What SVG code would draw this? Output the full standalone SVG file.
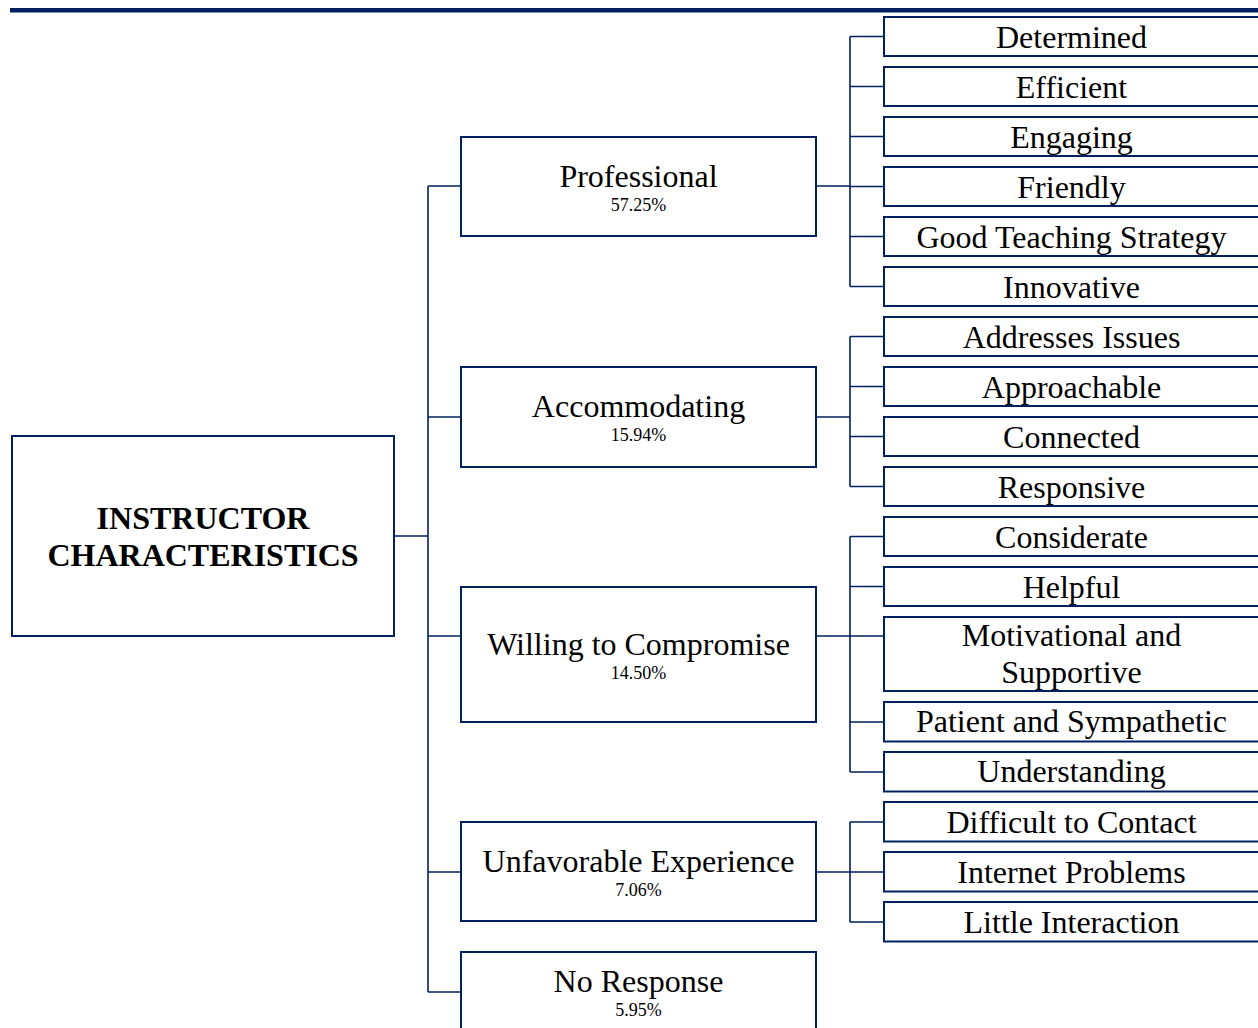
<svg xmlns="http://www.w3.org/2000/svg" width="1258" height="1028" viewBox="0 0 1258 1028">
<style>
.box{fill:#fff;stroke:#002060;stroke-width:2}
.con{fill:none;stroke:#002060;stroke-width:1.6}
.t{font-family:"Liberation Serif","Times New Roman",serif;font-size:32px;fill:#000;text-anchor:middle}
.p{font-family:"Liberation Serif","Times New Roman",serif;font-size:18px;fill:#000;text-anchor:middle}
.b{font-weight:bold}
</style>
<rect x="0" y="0" width="1258" height="1028" fill="#fff"/>
<rect x="10" y="8" width="1248" height="4.5" fill="#002060"/>
<g id="connectors" class="con">
<path d="M394 536H428M428 186V992M428 186H461M428 417H461M428 636H461M428 872H461M428 992H461"/>
<path d="M816 186H850M850 36.5V286.5M850 36.5H884M850 86.5H884M850 136.5H884M850 186.5H884M850 236.5H884M850 286.5H884"/>
<path d="M816 417H850M850 336.5V486.5M850 336.5H884M850 386.5H884M850 436.5H884M850 486.5H884"/>
<path d="M816 636H850M850 536.5V772M850 536.5H884M850 586.5H884M850 636H884M850 722H884M850 772H884"/>
<path d="M816 872H850M850 822V922M850 822H884M850 872H884M850 922H884"/>
</g>
<g id="root"><rect class="box" x="12" y="436" width="382" height="200"/>
<text class="t b" x="203" y="529">INSTRUCTOR</text><text class="t b" x="203" y="566">CHARACTERISTICS</text></g>
<g id="professional"><rect class="box" x="461" y="137" width="355" height="99"/>
<text class="t" x="638.5" y="187">Professional</text><text class="p" x="638.5" y="211">57.25%</text></g>
<g id="accommodating"><rect class="box" x="461" y="367" width="355" height="100"/>
<text class="t" x="638.5" y="417">Accommodating</text><text class="p" x="638.5" y="441">15.94%</text></g>
<g id="willing"><rect class="box" x="461" y="587" width="355" height="135"/>
<text class="t" x="638.5" y="655">Willing to Compromise</text><text class="p" x="638.5" y="679">14.50%</text></g>
<g id="unfavorable"><rect class="box" x="461" y="822" width="355" height="99"/>
<text class="t" x="638.5" y="872">Unfavorable Experience</text><text class="p" x="638.5" y="896">7.06%</text></g>
<g id="noresponse"><rect class="box" x="461" y="952" width="355" height="100"/>
<text class="t" x="638.5" y="992">No Response</text><text class="p" x="638.5" y="1016">5.95%</text></g>
<g id="determined"><rect class="box" x="884" y="17" width="380" height="39"/><text class="t" x="1071.5" y="47.5">Determined</text></g>
<g id="efficient"><rect class="box" x="884" y="67" width="380" height="39"/><text class="t" x="1071.5" y="97.5">Efficient</text></g>
<g id="engaging"><rect class="box" x="884" y="117" width="380" height="39"/><text class="t" x="1071.5" y="147.5">Engaging</text></g>
<g id="friendly"><rect class="box" x="884" y="167" width="380" height="39"/><text class="t" x="1071.5" y="197.5">Friendly</text></g>
<g id="goodteaching"><rect class="box" x="884" y="217" width="380" height="39"/><text class="t" x="1071.5" y="247.5">Good Teaching Strategy</text></g>
<g id="innovative"><rect class="box" x="884" y="267" width="380" height="39"/><text class="t" x="1071.5" y="297.5">Innovative</text></g>
<g id="addresses"><rect class="box" x="884" y="317" width="380" height="39"/><text class="t" x="1071.5" y="347.5">Addresses Issues</text></g>
<g id="approachable"><rect class="box" x="884" y="367" width="380" height="39"/><text class="t" x="1071.5" y="397.5">Approachable</text></g>
<g id="connected"><rect class="box" x="884" y="417" width="380" height="39"/><text class="t" x="1071.5" y="447.5">Connected</text></g>
<g id="responsive"><rect class="box" x="884" y="467" width="380" height="39"/><text class="t" x="1071.5" y="497.5">Responsive</text></g>
<g id="considerate"><rect class="box" x="884" y="517" width="380" height="39"/><text class="t" x="1071.5" y="547.5">Considerate</text></g>
<g id="helpful"><rect class="box" x="884" y="567" width="380" height="39"/><text class="t" x="1071.5" y="597.5">Helpful</text></g>
<g id="motivational"><rect class="box" x="884" y="617" width="380" height="74"/><text class="t" x="1071.5" y="646">Motivational and</text><text class="t" x="1071.5" y="683">Supportive</text></g>
<g id="patient"><rect class="box" x="884" y="702" width="380" height="39.5"/><text class="t" x="1071.5" y="732">Patient and Sympathetic</text></g>
<g id="understanding"><rect class="box" x="884" y="752" width="380" height="39.5"/><text class="t" x="1071.5" y="782">Understanding</text></g>
<g id="difficult"><rect class="box" x="884" y="802" width="380" height="39.5"/><text class="t" x="1071.5" y="832.5">Difficult to Contact</text></g>
<g id="internet"><rect class="box" x="884" y="852" width="380" height="39.5"/><text class="t" x="1071.5" y="882.5">Internet Problems</text></g>
<g id="little"><rect class="box" x="884" y="902" width="380" height="39.5"/><text class="t" x="1071.5" y="932.5">Little Interaction</text></g>
</svg>
